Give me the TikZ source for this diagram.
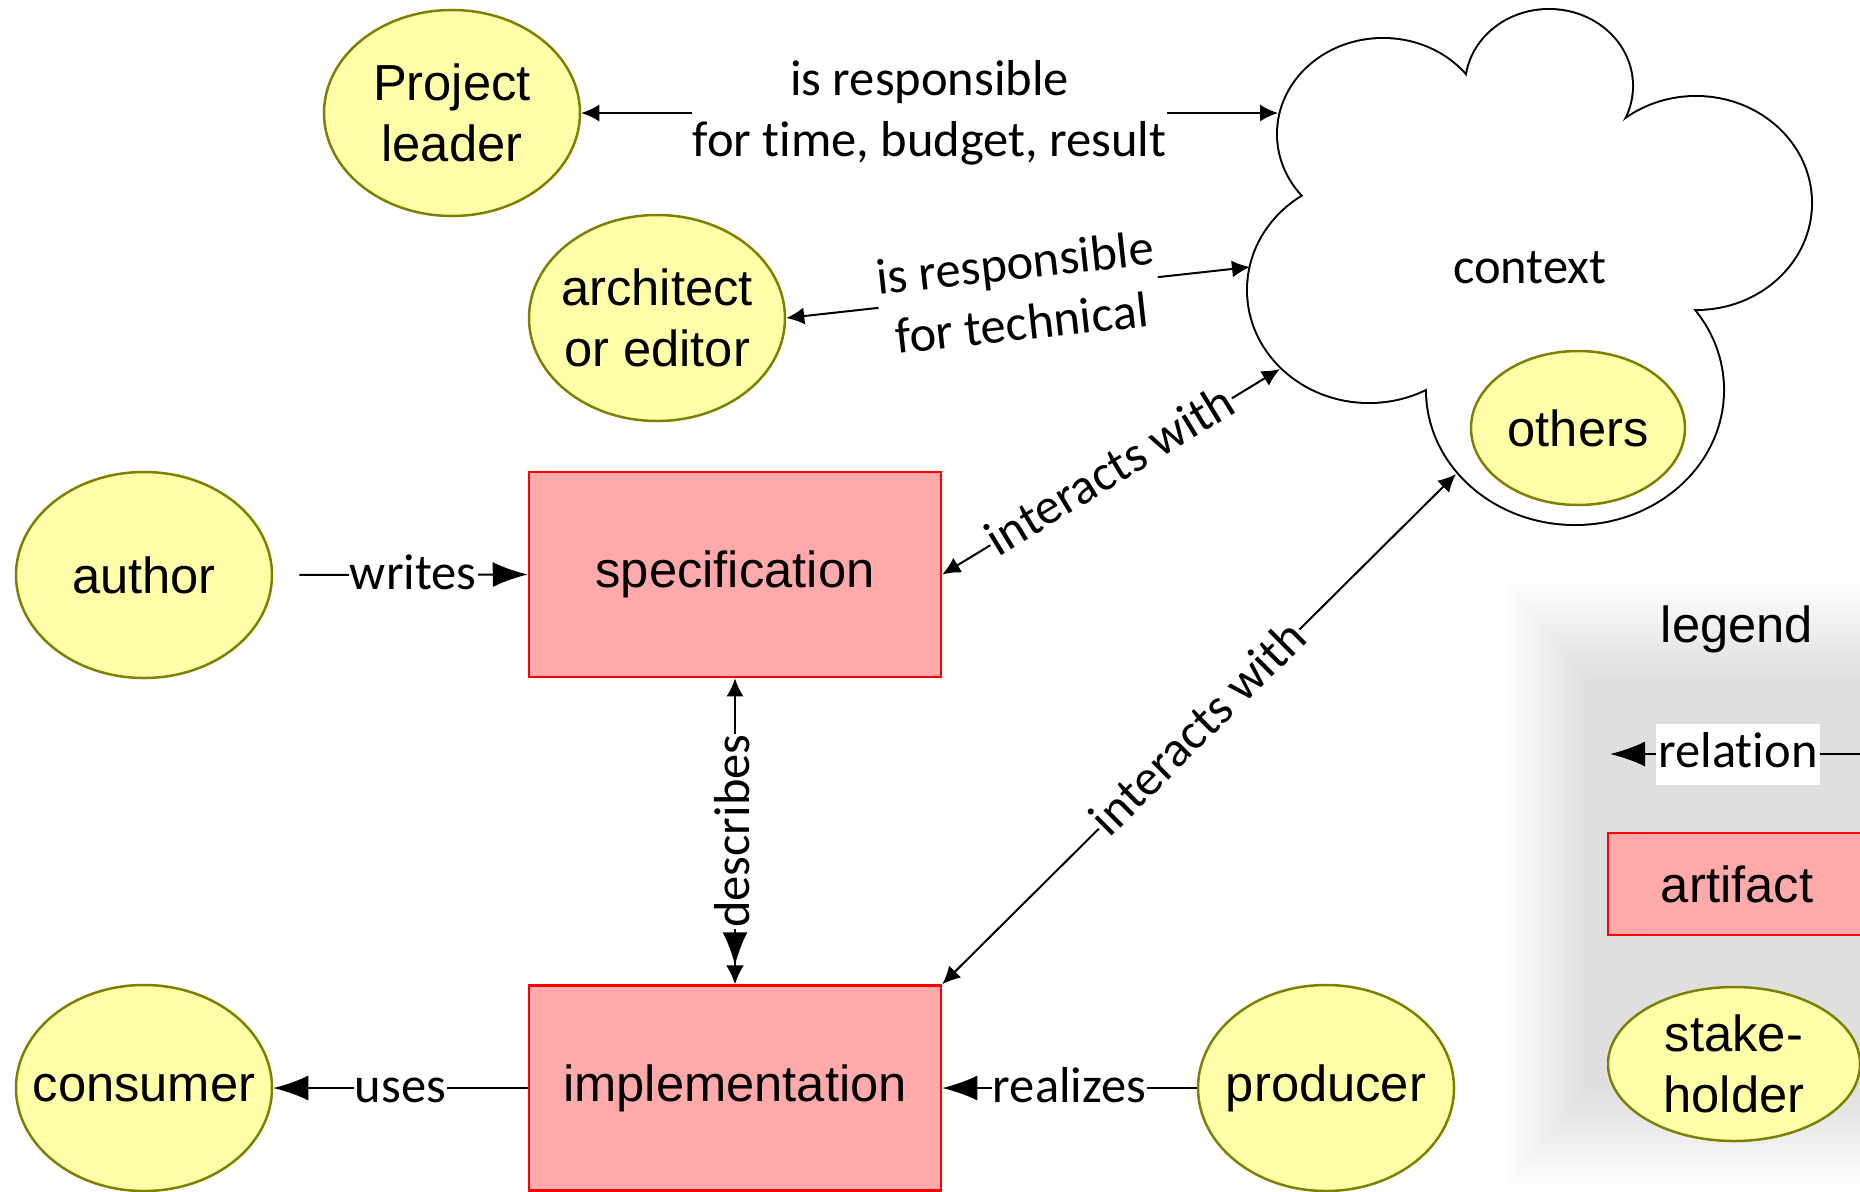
\documentclass[tikz,border=0pt]{standalone}
\usepackage{fontspec}
\setmainfont{Liberation Sans}
\newfontfamily\carlitofam[Ligatures={NoCommon}]{Carlito}
\usetikzlibrary{arrows.meta,shapes.geometric}
\definecolor{stfill}{HTML}{FFFFAA}
\definecolor{stdraw}{HTML}{808000}
\definecolor{arfill}{HTML}{FFAAAA}
\definecolor{ardraw}{HTML}{FF0000}
\newcommand{\ndfont}{\fontsize{50.7}{61}\selectfont}
\newcommand{\lblfnt}{\carlitofam\fontsize{50.5}{61}\selectfont}
\tikzset{
  smtip/.tip={Latex[length=18pt,width=17pt]},
  bgtip/.tip={Latex[length=35pt,width=25pt]},
}
\begin{document}
\begin{tikzpicture}[x=1pt,y=-1pt,
  stake/.style={ellipse, draw=stdraw, fill=stfill, line width=2.5pt, inner sep=0pt, minimum width=256pt, minimum height=206pt},
  art/.style={rectangle, draw=ardraw, fill=arfill, line width=2.5pt, inner sep=0pt, minimum width=412pt, minimum height=205pt, font=\ndfont},
  ntext/.style={font=\ndfont, align=center, inner sep=0pt},
  lbl/.style={font=\lblfnt, fill=white, inner xsep=1pt, inner ysep=0pt, text height=29pt, text depth=0pt},
  lbltwo/.style={font=\lblfnt, fill=white, inner xsep=1pt, inner ysep=0pt, align=center},
  rel/.style={line width=2pt},
]
\useasboundingbox (0,0) rectangle (1860,1191);
\clip (0,0) rectangle (1860,1191);

% legend shadow
\foreach \i in {0,...,15} {
  \pgfmathsetmacro\lx{1505+5.33*\i}
  \pgfmathsetmacro\ty{578+6.6*\i}
  \pgfmathsetmacro\by{1190-6.6*\i}
  \fill[black, opacity=0.007] (\lx,\ty) rectangle (1900,\by);
}

% cloud
\foreach \cx/\cy/\rx/\ry in {1383/134/105/95, 1549/86/83/76, 1696/203/115/106, 1575/390/148/134, 1369/290/121/112}
  \draw[line width=4pt] (\cx,\cy) ellipse [x radius=\rx, y radius=\ry];
\foreach \cx/\cy/\rx/\ry in {1383/134/105/95, 1549/86/83/76, 1696/203/115/106, 1575/390/148/134, 1369/290/121/112}
  \fill[white] (\cx,\cy) ellipse [x radius=\rx, y radius=\ry];
\fill[white] (1305,199) -- (1468,81) -- (1622,121) -- (1694,309) -- (1428,388) -- cycle;
\node[font=\lblfnt, inner sep=0pt] (ctx) at (1530,268) {context};
\coordinate (cPL) at (1278,113);
\coordinate (cAR) at (1250,267);
\coordinate (cSP) at (1280,369);
\coordinate (cIM) at (1456,474);

% stakeholders
\node[stake] (pl) at (452,113) {};
\node[ntext] (plt) at (pl) {Project\\leader};
\node[stake] (ar) at (657,318) {};
\node[ntext] (art) at (ar) {architect\\or editor};
\node[stake] (au) at (144,575) {};
\node[ntext] (aut) at (au) {author};
\node[stake] (co) at (144,1088) {};
\node[ntext] (cot) at (co) {consumer};
\node[stake] (pr) at (1326,1088) {};
\node[ntext] (prt) at (pr) {producer};
\node[stake, minimum width=214pt, minimum height=154pt] (oth) at (1578,428) {};
\node[ntext] (otht) at (oth) {others};

% artifacts
\node[art] (spec) at (735,574.5) {specification};
\node[art] (impl) at (735,1088) {implementation};

% connectors
\draw[rel, {smtip}-{smtip}] (pl.east) -- node[lbltwo] {is responsible\\for time, budget, result} (cPL);
\draw[rel, {smtip}-{smtip}] (ar.east) -- node[lbltwo, sloped] {is responsible\\for technical} (cAR);
\draw[rel, {smtip}-{smtip}] (spec.east) -- node[lbl, sloped] {interacts with} (cSP);
\draw[rel, {smtip}-{smtip}] (impl.north east) -- node[lbl, sloped] {interacts with} (cIM);
\draw[rel, {Latex[length=18pt,width=17pt]}-{Latex[length=33pt,width=25pt]Latex[length=19pt,width=18pt]}] (spec.south) -- node[lbl, rotate=90] {describes} (impl.north);
\draw[rel, -{bgtip}, shorten <=26pt] (au.east) -- node[lbl, pos=0.55] {writes} (spec.west);
\draw[rel, -{bgtip}] (impl.west) -- node[lbl] {uses} (co.east);
\draw[rel, -{bgtip}] (pr.west) -- node[lbl] {realizes} (impl.east);

% legend
\node[ntext] (lgd) at (1737,629) {legend};
\coordinate (lrR) at (1866,754);
\coordinate (lrL) at (1610,754);
\draw[rel, -{bgtip}] (lrR) -- node[font=\lblfnt, fill=white, inner xsep=2.5pt, inner ysep=2pt, text height=42pt, text depth=15pt] {relation} (lrL);
\node[art, minimum width=258pt, minimum height=102pt] (lart) at (1737,884) {artifact};
\node[stake, minimum width=252pt, minimum height=154pt] (lst) at (1734,1064) {};
\node[ntext] (lstt) at (lst) {stake-\\holder};
\end{tikzpicture}
\end{document}
